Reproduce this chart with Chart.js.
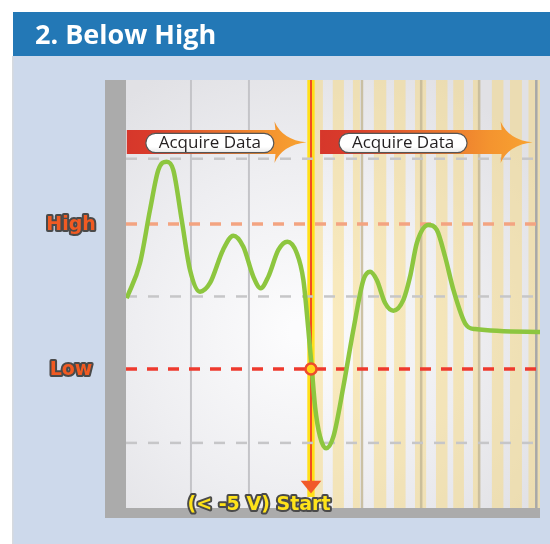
<!DOCTYPE html>
<html><head><meta charset="utf-8">
<script src="https://cdn.jsdelivr.net/npm/chart.js@4.4.1/dist/chart.umd.min.js"></script>
<style>html,body{margin:0;padding:0;background:#fff;}#wrap{width:550px;height:544px;}</style>
</head><body><div id="wrap"><canvas id="c" width="550" height="544"></canvas></div>
<script>
// ---- data (x in time units, y in volts) ----
const titleText = '2. Below High';
const timeX = [0.17, 3.41, 5.84, 7.86, 9.90, 11.51, 13.55, 15.57, 18.0, 20.44, 23.6, 26.1, 28.54, 30.97, 32.77, 34.62, 37.06, 39.25, 41.53, 43.14, 44.36, 45.18, 45.99, 47.20, 48.66, 50.44, 52.87, 55.30, 57.74, 59.37, 61.0, 63.02, 65.04, 67.47, 69.10, 70.73, 73.55, 75.60, 77.62, 79.64, 82.48, 84.91, 100.7];
const signalV = [-0.12, 2.31, 5.97, 8.72, 9.30, 8.72, 5.28, 1.83, 0.33, 0.93, 3.21, 4.19, 3.43, 1.37, 0.57, 1.37, 3.21, 3.78, 3.0, 1.14, -2.31, -4.93, -7.60, -9.67, -10.47, -9.67, -6.22, -2.31, 1.14, 1.71, 1.14, -0.45, -0.98, -0.24, 1.37, 3.67, 4.93, 4.59, 2.74, 0.45, -1.85, -2.25, -2.45];
const highLevel = 5;
const lowLevel = -5;
const guideLevels = [9.5, 0, -10.1];
const levelLabels = ['High', 'Low'];
const gridX = [15.8, 29.9, 57.4, 71.8, 85.9, 99.8];
const stripeFrom = [45.9, 50.3, 55.2, 60.3, 65.2, 70.3, 75.4, 79.6, 84.4, 89.0, 93.4, 97.9];
const stripeTo   = [47.9, 53.0, 56.9, 63.3, 68.0, 73.0, 78.2, 82.2, 85.9, 91.8, 96.3, 100.7];
const startX = 45.0;
const startLabel = '(< -5 V) Start';
const acquireFrom = [0.2, 47.2];
const acquireTo = [43.9, 98.9];
const acquireLabel = 'Acquire Data';
const xMin = 0, xMax = 100.7, yMin = -14.59, yMax = 14.93;

function pts(xs, ys){ return xs.map((v,i)=>({x:v, y:ys[i]})); }
function levelLine(v){ return [{x:xMin,y:v},{x:xMax,y:v}]; }

const decor = {
  id: 'decor',
  beforeDraw(chart){
    const {ctx, chartArea:a, scales:{x}} = chart;
    ctx.save();
    ctx.fillStyle='#ffffff'; ctx.fillRect(0,0,550,544);
    ctx.fillStyle='#cdd9eb'; ctx.fillRect(13,56,537,488);
    ctx.fillStyle='#d6dadf'; ctx.fillRect(12,56,1.5,488);
    ctx.fillStyle='#2378b6'; ctx.fillRect(13,12,537,44);
    ctx.fillStyle='#ffffff'; ctx.font='bold 27px "Open Sans"'; ctx.textBaseline='alphabetic'; ctx.textAlign='left';
    ctx.fillText(titleText,35,44);
    // frame
    ctx.fillStyle='#ababab';
    ctx.fillRect(105, a.top, a.left-105, a.bottom+10-a.top);
    ctx.fillRect(105, a.bottom, a.right-105, 10);
    // plot background
    const g = ctx.createRadialGradient(300,330,10,300,330,290);
    g.addColorStop(0,'#fcfcfd'); g.addColorStop(0.55,'#eeeef1'); g.addColorStop(1,'#e1e1e5');
    ctx.fillStyle=g; ctx.fillRect(a.left,a.top,a.right-a.left,a.bottom-a.top);
    // stripes
    ctx.fillStyle='rgba(248,214,115,0.45)';
    stripeFrom.forEach((s,i)=>{
      const x0=x.getPixelForValue(s), x1=x.getPixelForValue(stripeTo[i]);
      ctx.fillRect(x0,a.top,x1-x0,a.bottom-a.top);
    });
    // vertical grid
    gridX.forEach(v=>{
      const px=x.getPixelForValue(v);
      const right = v>startX;
      ctx.strokeStyle = v>99 ? '#a8a8a8' : (right ? 'rgba(196,184,150,0.85)' : '#c4c4c8');
      ctx.lineWidth = right ? 2.5 : 2;
      ctx.beginPath(); ctx.moveTo(px,a.top); ctx.lineTo(px,a.bottom); ctx.stroke();
    });
    ctx.restore();
  },
  beforeDatasetsDraw(chart){
    const {ctx, chartArea:a, scales:{x}} = chart;
    const sx = x.getPixelForValue(startX);
    ctx.save();
    ctx.fillStyle='#ffe01a'; ctx.fillRect(sx-3.7, a.top, 7.4, 497-a.top);
    ctx.fillStyle='#f04e23'; ctx.fillRect(sx-1, a.top, 2, 483-a.top);
    ctx.restore();
  },
  afterDatasetsDraw(chart){
    const {ctx, chartArea:a, scales:{x,y}} = chart;
    const sx = x.getPixelForValue(startX);
    ctx.save();
    // arrow head of start line
    ctx.fillStyle='#f15a29';
    ctx.beginPath(); ctx.moveTo(sx-10.3,480.7); ctx.lineTo(sx+10.3,480.7); ctx.lineTo(sx,493.5); ctx.closePath(); ctx.fill();
    // trigger circle
    const cy = y.getPixelForValue(lowLevel);
    ctx.beginPath(); ctx.arc(sx, cy, 5.5, 0, Math.PI*2);
    ctx.fillStyle='#ffd51c'; ctx.fill(); ctx.lineWidth=2.5; ctx.strokeStyle='#ef4a2b'; ctx.stroke();
    // acquire arrows
    acquireFrom.forEach((f,i)=>drawAcquire(ctx, x.getPixelForValue(f), x.getPixelForValue(acquireTo[i])));
    // level labels
    ctx.font='bold 19px "DejaVu Sans"'; ctx.textAlign='center'; ctx.textBaseline='alphabetic';
    ctx.lineJoin='round'; ctx.lineWidth=4; ctx.strokeStyle='#4a4a4a'; ctx.fillStyle='#f15a22';
    [highLevel, lowLevel].forEach((v,i)=>{
      const py = y.getPixelForValue(v)+6;
      ctx.strokeText(levelLabels[i], 71, py); ctx.fillText(levelLabels[i], 71, py);
    });
    // start label
    ctx.font='bold 19px "DejaVu Sans"';
    ctx.fillStyle='#ffe31a';
    ctx.strokeText(startLabel, 259, 510); ctx.fillText(startLabel, 259, 510);
    ctx.restore();
  }
};

function drawAcquire(ctx, x0, tip){
  const hb = tip - 31, top=130, bot=154, mid=142.3;
  const grad = ctx.createLinearGradient(x0,0,tip,0);
  grad.addColorStop(0,'#d6372b'); grad.addColorStop(0.15,'#da3c2b'); grad.addColorStop(0.5,'#e86e2e');
  grad.addColorStop(0.8,'#f4942f'); grad.addColorStop(1,'#f8a331');
  ctx.beginPath();
  ctx.moveTo(x0,top); ctx.lineTo(hb,top); ctx.lineTo(hb-1,121.5);
  ctx.quadraticCurveTo(hb+7,140,tip,mid);
  ctx.quadraticCurveTo(hb+7,145,hb-1,163);
  ctx.lineTo(hb,bot); ctx.lineTo(x0,bot); ctx.closePath();
  ctx.fillStyle=grad; ctx.fill();
  // pill
  const px0=x0+19, pw=128, py=133.3, ph=19.4, r=ph/2;
  ctx.beginPath();
  ctx.moveTo(px0+r,py); ctx.lineTo(px0+pw-r,py); ctx.arc(px0+pw-r,py+r,r,-Math.PI/2,Math.PI/2);
  ctx.lineTo(px0+r,py+ph); ctx.arc(px0+r,py+r,r,Math.PI/2,Math.PI*1.5); ctx.closePath();
  const pg = ctx.createLinearGradient(0,py,0,py+ph);
  pg.addColorStop(0,'#ffffff'); pg.addColorStop(0.7,'#ffffff'); pg.addColorStop(1,'#e6e6e6');
  ctx.fillStyle=pg; ctx.fill(); ctx.lineWidth=1.2; ctx.strokeStyle='#555555'; ctx.stroke();
  ctx.fillStyle='#231f20'; ctx.font='17px "Open Sans"'; ctx.textAlign='center'; ctx.textBaseline='middle';
  ctx.fillText(acquireLabel, px0+pw/2, py+ph/2+0.5);
}

function build(){
  new Chart(document.getElementById('c'), {
    type:'line',
    data:{ datasets:[
      { data: pts(timeX, signalV), borderColor:'#8dc63f', borderWidth:4.5, pointRadius:0, cubicInterpolationMode:'monotone', fill:false },
      { data: levelLine(highLevel), borderColor:'#f3a481', borderWidth:3.5, borderDash:[11,10], pointRadius:0 },
      { data: levelLine(lowLevel), borderColor:'#ee3a2e', borderWidth:3.5, borderDash:[11,10], pointRadius:0 },
      ...guideLevels.map(v=>({ data: levelLine(v), borderColor:'#c6c6c8', borderWidth:2.5, borderDash:[11,11], pointRadius:0 }))
    ]},
    options:{
      responsive:false, animation:false, devicePixelRatio:1,
      layout:{ padding:{ left:126, right:10, top:80, bottom:36 } },
      scales:{
        x:{ type:'linear', min:xMin, max:xMax, display:false },
        y:{ type:'linear', min:yMin, max:yMax, display:false }
      },
      plugins:{ legend:{display:false}, tooltip:{enabled:false} }
    },
    plugins:[decor]
  });
}
Promise.all(['bold 27px "Open Sans"','17px "Open Sans"','bold 19px "DejaVu Sans"'].map(f=>document.fonts.load(f)))
  .catch(()=>{}).then(build);
</script>
</body></html>
